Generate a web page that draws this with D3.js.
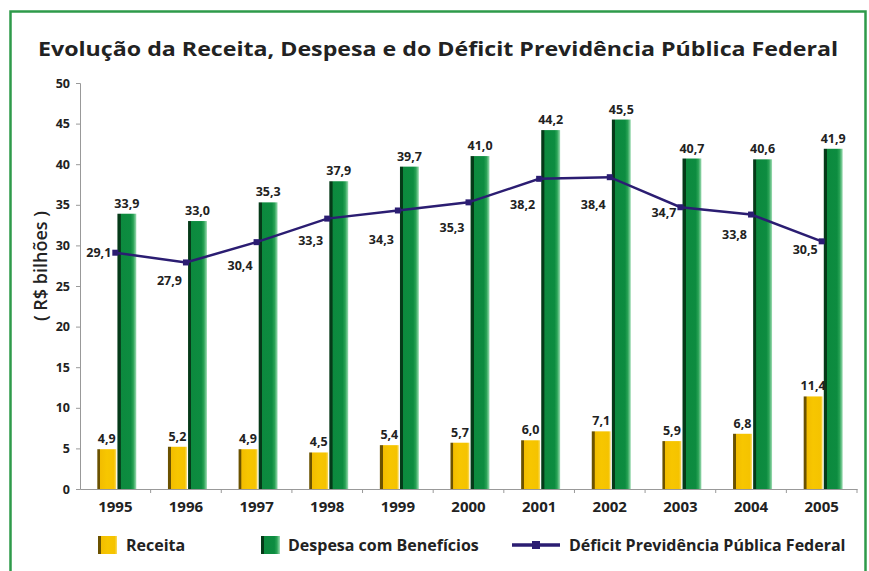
<!DOCTYPE html>
<html>
<meta charset="utf-8">
<script src="https://d3js.org/d3.v7.min.js"></script>
<style>
  body { margin: 0; background: #fff; }
  text { font-family: "Open Sans", "DejaVu Sans", sans-serif; fill: #222; }
</style>
<body>
<div id="chart"></div>
<script>
// data
var years = ["1995","1996","1997","1998","1999","2000","2001","2002","2003","2004","2005"];
var receita = [4.9, 5.2, 4.9, 4.5, 5.4, 5.7, 6.0, 7.1, 5.9, 6.8, 11.4];
var despesa = [33.9, 33.0, 35.3, 37.9, 39.7, 41.0, 44.2, 45.5, 40.7, 40.6, 41.9];
var deficit = [29.1, 27.9, 30.4, 33.3, 34.3, 35.3, 38.2, 38.4, 34.7, 33.8, 30.5];
var yTicks = [0, 5, 10, 15, 20, 25, 30, 35, 40, 45, 50];

// label nudges for the deficit line (layout only)
var defLabelDy = [0, 19, 24, 22, 30, 26, 26, 28, 6, 20, 9];

var W = 869, H = 571;
var fmt = function(v){ return v.toFixed(1).replace(".", ","); };

var svg = d3.select("#chart").append("svg")
    .attr("width", W).attr("height", H);

// gradients for the 3D look
var defs = svg.append("defs");
function grad(id, stops) {
  var g = defs.append("linearGradient").attr("id", id)
      .attr("x1", "0%").attr("x2", "100%").attr("y1", "0%").attr("y2", "0%");
  stops.forEach(function(s){
    g.append("stop").attr("offset", s[0]).attr("stop-color", s[1]);
  });
}
grad("gYellow", [["0%","#6b5200"],["14%","#6b5200"],["16%","#f2bd00"],["50%","#f7c600"],["88%","#f5c300"],["100%","#f9dc60"]]);
grad("gGreen", [["0%","#053a18"],["16%","#053a18"],["18%","#0c8a3e"],["70%","#0d8c40"],["84%","#2aa356"],["100%","#9fdcb4"]]);

// frame
svg.append("rect")
    .attr("x", 10.5).attr("y", 11.5)
    .attr("width", 855).attr("height", 580)
    .attr("fill", "none").attr("stroke", "#2e9a4a").attr("stroke-width", 2.5);

// title
svg.append("text")
    .attr("x", 438).attr("y", 56)
    .attr("text-anchor", "middle")
    .style("font-size", "20px").style("font-weight", "bold")
    .attr("textLength", 800).attr("lengthAdjust", "spacingAndGlyphs")
    .text("Evolução da Receita, Despesa e do Déficit Previdência Pública Federal");

// scales
var x = d3.scaleBand().domain(years).range([80, 857]).padding(0);
var y = d3.scaleLinear().domain([0, 50]).range([489, 83]);
var bw = x.bandwidth();

// y axis
var yAxis = svg.append("g")
    .attr("transform", "translate(80,0)")
    .call(d3.axisLeft(y).tickValues(yTicks).tickSize(4).tickPadding(6));
yAxis.select(".domain").attr("stroke", "#999");
yAxis.selectAll(".tick line").attr("stroke", "#999");
yAxis.selectAll(".tick text")
    .style("font-size", "12.5px").style("font-weight", "bold")
    .style("font-family", "'Open Sans', sans-serif").attr("fill", "#333");

// x axis
var xAxis = svg.append("g")
    .attr("transform", "translate(0,489)")
    .call(d3.axisBottom(x).tickSize(0).tickPadding(12));
xAxis.select(".domain").attr("stroke", "#999");
xAxis.selectAll(".tick text")
    .style("font-size", "15px").style("font-weight", "bold")
    .style("font-family", "'Open Sans', sans-serif").attr("fill", "#222");
// small ticks between categories
svg.append("g").selectAll("line")
    .data(years.slice(1).concat(["end"]))
    .enter().append("line")
    .attr("x1", function(d, i){ return x(years[0]) + bw * (i + 1); })
    .attr("x2", function(d, i){ return x(years[0]) + bw * (i + 1); })
    .attr("y1", 489).attr("y2", 493)
    .attr("stroke", "#999");

// y axis title
svg.append("text")
    .attr("transform", "translate(47,266) rotate(-90)")
    .attr("text-anchor", "middle")
    .style("font-size", "18px").style("font-weight", "600")
    .text("( R$ bilhões )");

// bars
var xin = d3.scaleBand().domain(["receita", "despesa"])
    .range([bw / 2 - 18, bw / 2 + 21]).paddingInner(0.06);

svg.append("g").selectAll("rect")
    .data(years)
    .enter().append("rect")
    .attr("x", function(d){ return x(d) + xin("receita"); })
    .attr("y", function(d, i){ return y(receita[i]); })
    .attr("width", xin.bandwidth())
    .attr("height", function(d, i){ return y(0) - y(receita[i]); })
    .attr("fill", "url(#gYellow)");

svg.append("g").selectAll("rect")
    .data(years)
    .enter().append("rect")
    .attr("x", function(d){ return x(d) + xin("despesa"); })
    .attr("y", function(d, i){ return y(despesa[i]); })
    .attr("width", xin.bandwidth())
    .attr("height", function(d, i){ return y(0) - y(despesa[i]); })
    .attr("fill", "url(#gGreen)");

// bar labels
svg.append("g").selectAll("text")
    .data(years)
    .enter().append("text")
    .attr("x", function(d){ return x(d) + xin("receita") + xin.bandwidth() / 2; })
    .attr("y", function(d, i){ return y(receita[i]) - 6; })
    .attr("text-anchor", "middle")
    .style("font-size", "12.5px").style("font-weight", "bold")
    .text(function(d, i){ return fmt(receita[i]); });

svg.append("g").selectAll("text")
    .data(years)
    .enter().append("text")
    .attr("x", function(d){ return x(d) + xin("despesa") + xin.bandwidth() / 2; })
    .attr("y", function(d, i){ return y(despesa[i]) - 6; })
    .attr("text-anchor", "middle")
    .style("font-size", "12.5px").style("font-weight", "bold")
    .text(function(d, i){ return fmt(despesa[i]); });

// deficit line
var cx = function(d){ return x(d) + bw / 2; };
var line = d3.line()
    .x(function(d, i){ return cx(years[i]); })
    .y(function(d){ return y(d); });

svg.append("path")
    .datum(deficit)
    .attr("d", line)
    .attr("fill", "none")
    .attr("stroke", "#2b1d72").attr("stroke-width", 2.5);

svg.append("g").selectAll("rect")
    .data(deficit)
    .enter().append("rect")
    .attr("x", function(d, i){ return cx(years[i]) - 3; })
    .attr("y", function(d){ return y(d) - 3; })
    .attr("width", 6).attr("height", 6)
    .attr("fill", "#2b1d72");

svg.append("g").selectAll("text")
    .data(deficit)
    .enter().append("text")
    .attr("x", function(d, i){ return cx(years[i]) - 4; })
    .attr("y", function(d, i){ return y(d) + defLabelDy[i] + 4; })
    .attr("text-anchor", "end")
    .style("font-size", "12.5px").style("font-weight", "bold")
    .text(function(d){ return fmt(d); });

// legend
var leg = svg.append("g").attr("transform", "translate(0,545)");
function legBox(x0, gid) {
  leg.append("rect").attr("x", x0).attr("y", -9).attr("width", 19).attr("height", 18)
      .attr("fill", "url(#" + gid + ")");
}
legBox(98, "gYellow");
leg.append("text").attr("x", 126).attr("y", 6)
    .style("font-size", "16px").style("font-weight", "bold").text("Receita");
legBox(261, "gGreen");
leg.append("text").attr("x", 288).attr("y", 6)
    .style("font-size", "16px").style("font-weight", "bold").text("Despesa com Benefícios");
leg.append("line").attr("x1", 512).attr("x2", 560).attr("y1", 0).attr("y2", 0)
    .attr("stroke", "#2b1d72").attr("stroke-width", 3.5);
leg.append("rect").attr("x", 532).attr("y", -4).attr("width", 8).attr("height", 8)
    .attr("fill", "#2b1d72");
leg.append("text").attr("x", 569).attr("y", 6)
    .style("font-size", "16px").style("font-weight", "bold")
    .text("Déficit Previdência Pública Federal");
</script>
</body>
</html>
